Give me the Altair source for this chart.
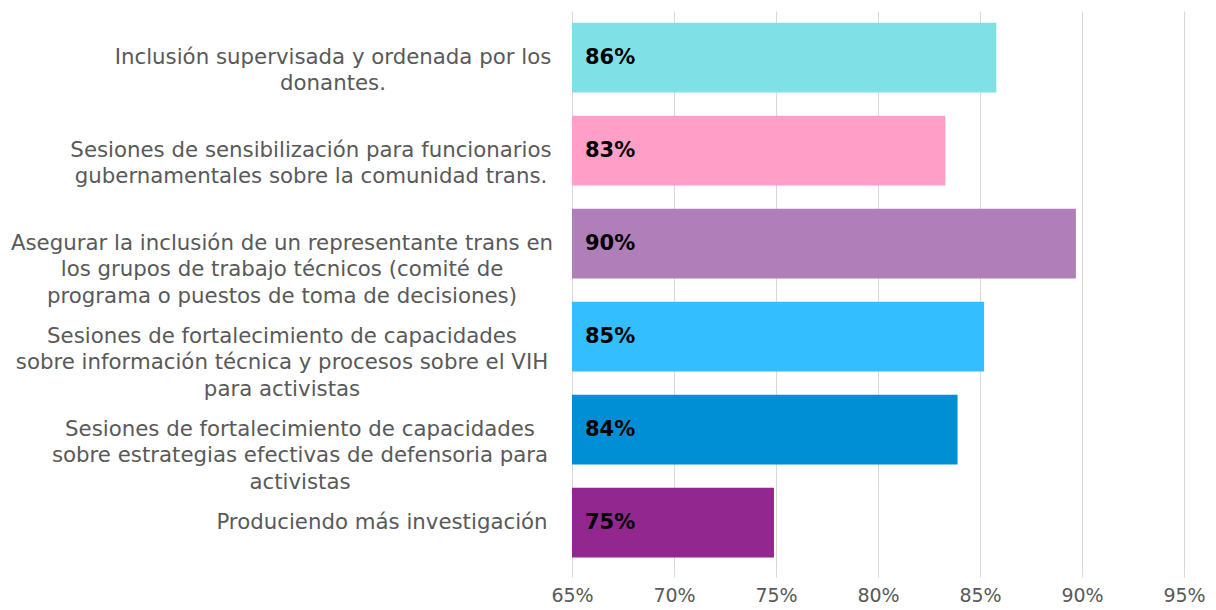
import altair as alt
import pandas as pd

# Data
categories = [
    "Inclusión supervisada y ordenada por los|donantes.",
    "Sesiones de sensibilización para funcionarios|gubernamentales sobre la comunidad trans.",
    "Asegurar la inclusión de un representante trans en|los grupos de trabajo técnicos (comité de|programa o puestos de toma de decisiones)",
    "Sesiones de fortalecimiento de capacidades|sobre información técnica y procesos sobre el VIH|para activistas",
    "Sesiones de fortalecimiento de capacidades|sobre estrategias efectivas de defensoria para|activistas",
    "Produciendo más investigación",
]
values = [85.8, 83.3, 89.7, 85.2, 83.9, 74.9]
value_labels = ["86%", "83%", "90%", "85%", "84%", "75%"]
x_ticks = [65, 70, 75, 80, 85, 90, 95]

# Styles
colors = ["#7FE1E6", "#FF9EC6", "#B07FB9", "#33BEFF", "#008FD5", "#92278F"]
label_half_widths = [219, 241, 270, 270, 252, 170]  # half width of each label block (px)

FONT = "DejaVu Sans"
GRAY = "#595959"
GRID = "#d9d9d9"

df = pd.DataFrame({
    "cat": categories,
    "value": values,
    "vlabel": value_labels,
    "color": colors,
    "hw": label_half_widths,
})

y = alt.Y("cat:N", sort=categories, axis=None,
          scale=alt.Scale(paddingInner=0.25, paddingOuter=0.125))

bars = alt.Chart(df).mark_bar().encode(
    x=alt.X("value:Q",
            scale=alt.Scale(domain=[65, 95], zero=False),
            axis=alt.Axis(values=x_ticks, labelExpr="datum.value + '%'",
                          grid=True, gridColor=GRID, gridWidth=1,
                          domain=False, ticks=True, tickSize=8, tickColor=GRID,
                          labelFont=FONT, labelFontSize=19, labelColor=GRAY,
                          labelFlush=False, labelPadding=9, title=None)),
    x2=alt.datum(65),
    y=y,
    color=alt.Color("color:N", scale=None),
)

value_text = alt.Chart(df).mark_text(
    align="left", baseline="middle", dx=13, font=FONT, fontSize=21,
    fontWeight="bold", color="#000000"
).encode(
    x=alt.value(0),
    y=y,
    text="vlabel:N",
)

cat_text = alt.Chart(df).transform_calculate(
    lines="split(datum.cat, '|')"
).mark_text(
    align="center", baseline="middle", lineHeight=26.5, font=FONT,
    fontSize=21.3, color=GRAY, dx=alt.ExprRef("-datum.hw")
).encode(
    x=alt.value(-20),
    y=y,
    text="lines:N",
)

chart = alt.layer(bars, value_text, cat_text).properties(
    width=612, height=558,
    autosize=alt.AutoSizeParams(type="none"),
    padding={"left": 564, "top": 3, "right": 24, "bottom": 38},
).configure_view(stroke=None)

chart.save("out.html", embed_options={"renderer": "svg", "actions": False})
